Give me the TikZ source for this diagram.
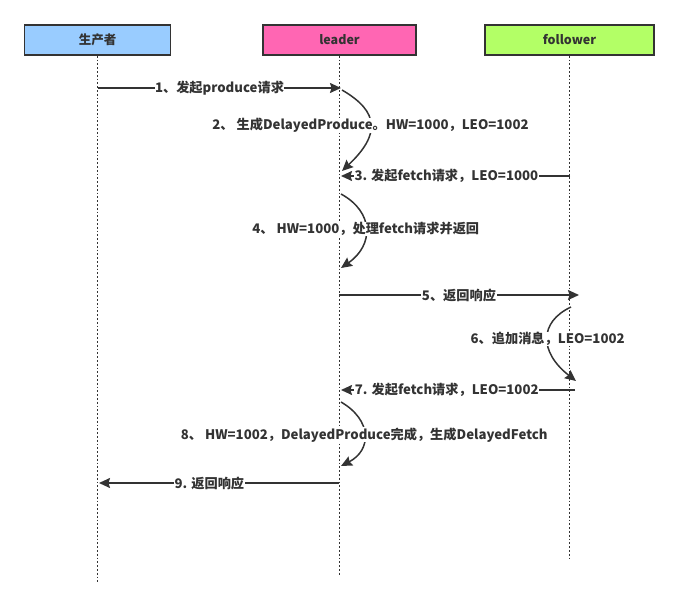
\documentclass[tikz,border=0pt]{standalone}
\usepackage{fontspec}
\setmainfont{Noto Sans CJK SC}
\usetikzlibrary{arrows.meta}
\definecolor{prodblue}{HTML}{99CCFF}
\definecolor{leadpink}{HTML}{FF66B3}
\definecolor{follgreen}{HTML}{B3FF66}
\colorlet{edgegray}{black!80}

\begin{document}
\begin{tikzpicture}[x=1pt,y=-1pt,
    actor/.style={draw=edgegray, line width=1.8pt, minimum height=30pt, inner sep=0pt,
        text=edgegray, font=\bfseries\fontsize{12.5}{14}\selectfont},
    life/.style={edgegray, line width=1.8pt, dash pattern=on 1.8pt off 2pt},
    msg/.style={edgegray, line width=1.5pt, -{Stealth[length=11pt,width=10pt,inset=1.5pt]}},
    lbl/.style={fill=white, inner sep=0.5pt, text=edgegray, font=\bfseries\fontsize{13.2}{15}\selectfont}]
    \useasboundingbox (0,0) rectangle (679,609);
        % participants and their lifelines
        \foreach \name/\txt/\x/\w/\col/\bot in {prod/生产者/97.5/146/prodblue/582,
                lead/leader/339.5/153/leadpink/576, foll/follower/569.5/169/follgreen/561}{
            \node[actor, fill=\col, minimum width=\w] (\name) at (\x,40) {\txt};
            \coordinate (\name end) at (\x,\bot);
            \draw[life] (\name) -- (\name end);
        }
        % message end points
        \foreach \n/\x/\y in {m1a/98/88, m1b/341/88, s2a/342/90, s2b/342/171,
                m3a/570/176, m3b/341/176, s4a/341/194, s4b/341/268,
                m5a/339/295, m5b/579/295, s6a/571/307, s6b/576/381,
                m7a/575/390, m7b/341/390, s8a/341/402, s8b/341/466,
                m9a/339/483, m9b/99/483}{
            \coordinate (\n) at (\x,\y);
        }
        \draw[msg] (m1a) -- node[lbl]{1、发起produce请求} (m1b);
        \draw[msg] (s2a) .. controls (380,112) and (380,135) .. node[lbl]{2、 生成DelayedProduce。HW=1000，LEO=1002} (s2b);
        \draw[msg] (m3a) -- node[lbl, pos=0.54]{3. 发起fetch请求，LEO=1000} (m3b);
        \draw[msg] (s4a) .. controls (374,212) and (374,245) .. node[lbl]{4、 HW=1000，处理fetch请求并返回} (s4b);
        \draw[msg] (m5a) -- node[lbl]{5、返回响应} (m5b);
        \draw[msg] (s6a) .. controls (539,322) and (539,352) .. node[lbl]{6、追加消息，LEO=1002} (s6b);
        \draw[msg] (m7a) -- node[lbl, pos=0.548]{7. 发起fetch请求，LEO=1002} (m7b);
        \draw[msg] (s8a) .. controls (372,420) and (372,450) .. node[lbl]{8、 HW=1002，DelayedProduce完成，生成DelayedFetch} (s8b);
        \draw[msg] (m9a) -- node[lbl, pos=0.54]{9. 返回响应} (m9b);
\end{tikzpicture}
\end{document}
